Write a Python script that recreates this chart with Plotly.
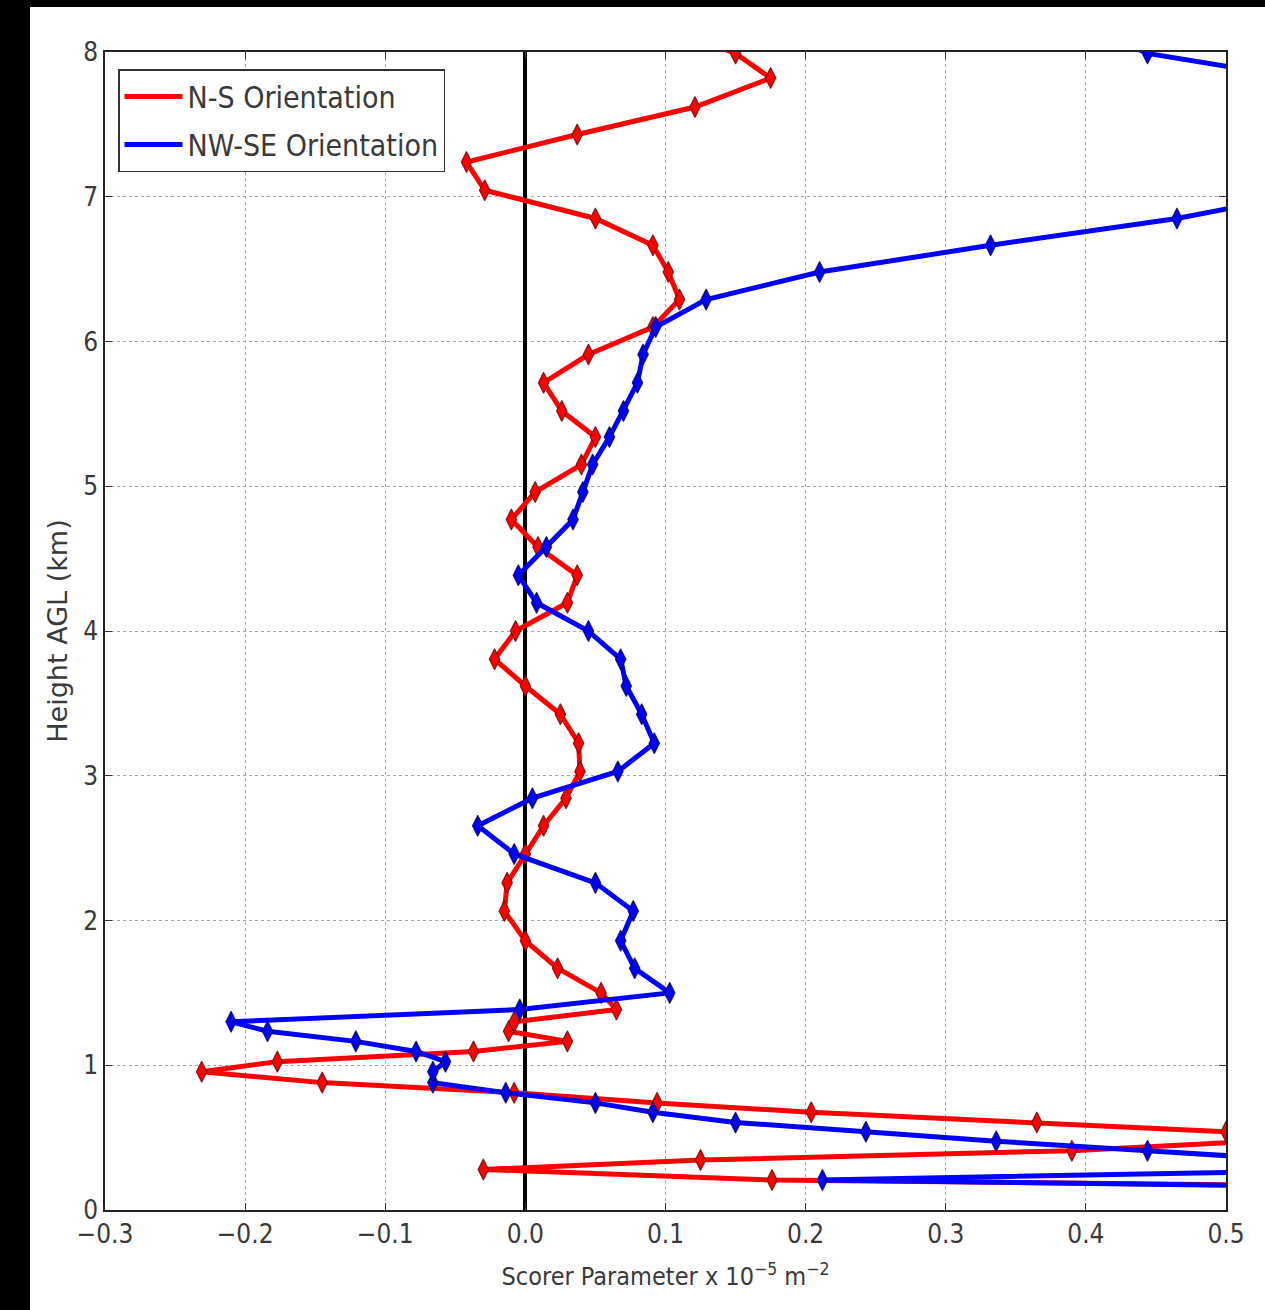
import plotly.graph_objects as go

# Model levels (km above ground) shared by both cross-sections
height_km = [0.14, 0.207, 0.28, 0.345, 0.41, 0.475, 0.54, 0.605, 0.675, 0.74,
             0.81, 0.88, 0.955, 1.025, 1.095, 1.165, 1.235, 1.30, 1.385, 1.50,
             1.67, 1.86, 2.065, 2.26, 2.46, 2.655, 2.845, 3.03, 3.225, 3.425,
             3.62, 3.805, 4.0, 4.195, 4.385, 4.58, 4.77, 4.96, 5.15, 5.34,
             5.52, 5.715, 5.91, 6.10, 6.29, 6.48, 6.665, 6.85, 7.045, 7.24,
             7.43, 7.62, 7.82, 7.99, 8.18]

# Scorer parameter profiles (x 10^-5 m^-2)
scorer_ns = [0.85, 0.176, -0.03, 0.125, 0.39, 0.52, 0.50, 0.365, 0.204, 0.094,
             -0.008, -0.145, -0.231, -0.177, -0.037, 0.030, -0.012, -0.008, 0.065, 0.054,
             0.023, 0.0, -0.015, -0.013, 0.0, 0.013, 0.029, 0.039, 0.038, 0.025,
             0.0, -0.022, -0.007, 0.030, 0.037, 0.009, -0.010, 0.007, 0.040, 0.050,
             0.026, 0.013, 0.045, 0.091, 0.110, 0.102, 0.091, 0.050, -0.029, -0.042,
             0.037, 0.121, 0.175, 0.150, 0.10]

scorer_nwse = [0.75, 0.212, 0.61, 0.55, 0.444, 0.336, 0.243, 0.150, 0.091, 0.050,
               -0.014, -0.066, -0.066, -0.057, -0.078, -0.121, -0.184, -0.210, -0.004, 0.103,
               0.078, 0.068, 0.077, 0.050, -0.008, -0.034, 0.005, 0.066, 0.092, 0.083,
               0.072, 0.068, 0.045, 0.008, -0.005, 0.015, 0.034, 0.041, 0.048, 0.060,
               0.070, 0.080, 0.084, 0.093, 0.129, 0.210, 0.332, 0.465, 0.57, 0.66,
               0.72, 0.64, 0.552, 0.444, 0.40]

series = [
    ("N-S Orientation", scorer_ns, "#ff0000", "rgba(90,0,0,0.75)"),
    ("NW-SE Orientation", scorer_nwse, "#0000ff", "rgba(0,0,60,0.75)"),
]

x_ticks = [-0.3, -0.2, -0.1, 0.0, 0.1, 0.2, 0.3, 0.4, 0.5]
y_ticks = [0, 1, 2, 3, 4, 5, 6, 7, 8]

W, H = 1265, 1310
ML, MR, MT, MB = 105, 39, 52, 100
PW, PH = W - ML - MR, H - MT - MB

def px_to_paper_x(px):
    return (px - ML) / PW

def py_to_paper_y(py):
    return 1 - (py - MT) / PH

TEXT = "#3a3a3a"
FONT = "DejaVu Sans Condensed, DejaVu Sans, sans-serif"

fig = go.Figure()

for name, vals, color, edge in series:
    fig.add_trace(go.Scatter(
        x=vals, y=height_km, mode="lines", name=name,
        line=dict(color=color, width=5),
        legendgroup=name,
    ))
    fig.add_trace(go.Scatter(
        x=vals, y=height_km, mode="markers", showlegend=False,
        legendgroup=name,
        marker=dict(symbol="diamond-tall", size=15, color=color,
                    line=dict(color=edge, width=1.2)),
    ))

# dark frame around the figure edges (left and top bands)
fig.add_shape(type="rect", xref="paper", yref="paper",
              x0=px_to_paper_x(0), x1=px_to_paper_x(30),
              y0=py_to_paper_y(H), y1=py_to_paper_y(0),
              fillcolor="black", line=dict(width=0), layer="above")
fig.add_shape(type="rect", xref="paper", yref="paper",
              x0=px_to_paper_x(0), x1=px_to_paper_x(W),
              y0=py_to_paper_y(7), y1=py_to_paper_y(0),
              fillcolor="black", line=dict(width=0), layer="above")

axis_common = dict(
    showline=True, linecolor="#222222", linewidth=1.5, mirror="ticks",
    ticks="inside", ticklen=7, tickwidth=1.2, tickcolor="#333333",
    showgrid=True, gridcolor="#a8a8a8", gridwidth=1, griddash="dot",
    tickfont=dict(family=FONT, size=26, color=TEXT),
)

fig.update_xaxes(
    range=[-0.3, 0.5], tickvals=x_ticks, tickformat=".1f",
    zeroline=True, zerolinecolor="black", zerolinewidth=4,
    title=dict(text="Scorer Parameter x 10<sup>−5</sup> m<sup>−2</sup>",
               font=dict(family=FONT, size=25, color=TEXT), standoff=20),
    **axis_common,
)
fig.update_yaxes(
    range=[0, 8], tickvals=y_ticks, tickformat="d", zeroline=False,
    title=dict(text="Height AGL (km)",
               font=dict(family="DejaVu Sans, sans-serif", size=27, color=TEXT),
               standoff=8),
    **axis_common,
)

fig.update_layout(
    width=W, height=H,
    margin=dict(l=ML, r=MR, t=MT, b=MB, pad=0),
    paper_bgcolor="white", plot_bgcolor="white",
    showlegend=True,
    legend=dict(
        x=px_to_paper_x(118), y=py_to_paper_y(69),
        xanchor="left", yanchor="top",
        bgcolor="white", bordercolor="#333333", borderwidth=1.5,
        font=dict(family=FONT, size=30, color=TEXT),
        tracegroupgap=6, traceorder="grouped",
        itemwidth=58,
    ),
)

fig.write_html("out.html")
